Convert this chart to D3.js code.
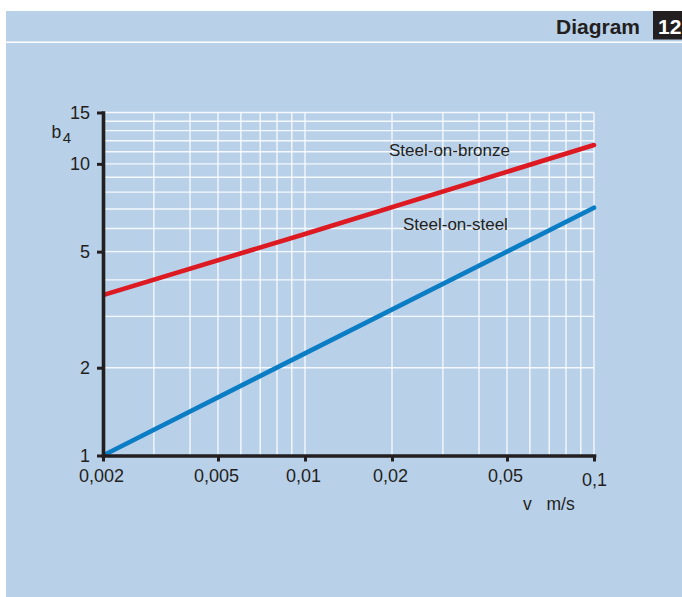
<!DOCTYPE html>
<html>
<head>
<meta charset="utf-8">
<script src="https://cdn.jsdelivr.net/npm/d3@7"></script>
<style>
  html, body { margin: 0; padding: 0; background: #ffffff; }
  svg { display: block; font-family: "Liberation Sans", Arial, Helvetica, sans-serif; }
</style>
</head>
<body>
<div id="chart"></div>
<script>
// ---- data ----
const seriesNames = ["Steel-on-bronze", "Steel-on-steel"];
const velocity = [0.002, 0.01, 0.1];            // v, m/s
const bronzeValues = [3.55, 5.75, 11.6];         // b4, steel-on-bronze
const steelValues = [1.0, 2.24, 7.07];           // b4, steel-on-steel
const xTickValues = [0.002, 0.005, 0.01, 0.02, 0.05, 0.1];
const xTickLabels = ["0,002", "0,005", "0,01", "0,02", "0,05", "0,1"];
const yTickValues = [1, 2, 5, 10, 15];
const yTickLabels = ["1", "2", "5", "10", "15"];
const xGridValues = [0.003, 0.004, 0.005, 0.006, 0.007, 0.008, 0.009, 0.01,
                     0.02, 0.03, 0.04, 0.05, 0.06, 0.07, 0.08, 0.09, 0.1];
const yGridValues = [2, 3, 4, 5, 6, 7, 8, 9, 10, 11, 12, 13, 14, 15];
const diagramTitle = "Diagram";
const diagramNumber = "12";
const yAxisLabel = "b";
const yAxisSub = "4";
const xAxisVar = "v";
const xAxisUnit = "m/s";

// ---- layout ----
const W = 682, H = 597;
const INK = "#231f20";
const BG = "#b9d0e9";
const RED = "#dd1a22";
const BLUE = "#0a7dc5";

const svg = d3.select("#chart").append("svg")
  .attr("width", W).attr("height", H);

// panel background
svg.append("rect").attr("x", 6).attr("y", 11).attr("width", W - 6).attr("height", H - 11).attr("fill", BG);
svg.append("line").attr("x1", 6).attr("x2", W).attr("y1", 42.2).attr("y2", 42.2)
  .attr("stroke", "#ffffff").attr("stroke-width", 1.6);

// header
svg.append("rect").attr("x", 653).attr("y", 11).attr("width", W - 653).attr("height", 28.5).attr("fill", INK);
svg.append("text").attr("x", 640).attr("y", 33.5).attr("text-anchor", "end")
  .attr("font-size", 21).attr("font-weight", "bold").attr("fill", INK).text(diagramTitle);
svg.append("text").attr("x", 658).attr("y", 33.5)
  .attr("font-size", 21).attr("font-weight", "bold").attr("fill", "#ffffff").text(diagramNumber);

// scales
const x = d3.scaleLog().domain([0.002, 0.1]).range([103, 594]);
const y = d3.scaleLog().domain([1, 15]).range([455.5, 112.5]);

const x0 = x.range()[0], x1 = x.range()[1];
const y0 = y.range()[0], y1 = y.range()[1];

// grid
const grid = svg.append("g").attr("stroke", "#ffffff").attr("stroke-opacity", 0.85).attr("stroke-width", 1.4);
grid.selectAll("line.v").data(xGridValues).join("line").attr("class", "v")
  .attr("x1", d => x(d)).attr("x2", d => x(d)).attr("y1", y0).attr("y2", y1);
grid.selectAll("line.h").data(yGridValues).join("line").attr("class", "h")
  .attr("x1", x0).attr("x2", x1).attr("y1", d => y(d)).attr("y2", d => y(d));

// series
const line = d3.line().x(d => x(d[0])).y(d => y(d[1]));
const series = [
  { name: seriesNames[0], color: RED, values: velocity.map((v, i) => [v, bronzeValues[i]]) },
  { name: seriesNames[1], color: BLUE, values: velocity.map((v, i) => [v, steelValues[i]]) }
];
svg.append("clipPath").attr("id", "clipL").append("rect")
  .attr("x", x0).attr("y", 0).attr("width", W - x0).attr("height", H);
svg.append("g").attr("clip-path", "url(#clipL)").selectAll("path.series").data(series).join("path")
  .attr("class", "series")
  .attr("d", d => line(d.values))
  .attr("fill", "none").attr("stroke", d => d.color)
  .attr("stroke-width", 4.6).attr("stroke-linecap", "round");

// axes
const fmtX = d => xTickLabels[xTickValues.indexOf(d)];
const fmtY = d => yTickLabels[yTickValues.indexOf(d)];

const xAxis = svg.append("g").attr("transform", `translate(0,${y0})`)
  .call(d3.axisBottom(x).tickValues(xTickValues).tickFormat(fmtX).tickSize(6).tickSizeOuter(0).tickPadding(8));
const yAxis = svg.append("g").attr("transform", `translate(${x0},0)`)
  .call(d3.axisLeft(y).tickValues(yTickValues).tickFormat(fmtY).tickSize(6).tickSizeOuter(0).tickPadding(7));

[xAxis, yAxis].forEach(g => {
  g.select(".domain").attr("stroke", INK).attr("stroke-width", 3.6).attr("stroke-linecap", "square");
  g.selectAll(".tick line").attr("stroke", INK).attr("stroke-width", 3);
  g.selectAll(".tick text").attr("fill", INK).attr("font-size", 18)
    .attr("font-family", "'Liberation Sans', Arial, Helvetica, sans-serif");
});
xAxis.selectAll(".tick text").attr("dx", -2);
xAxis.selectAll(".tick text").filter(d => d === 0.1).attr("dx", 0).attr("dy", "0.9em");

// axis titles
const yt = svg.append("text").attr("x", 51.5).attr("y", 138.3).attr("fill", INK).attr("font-size", 17.5);
yt.append("tspan").text(yAxisLabel);
yt.append("tspan").attr("font-size", 15).attr("dx", 1.5).attr("dy", 4.4).text(yAxisSub);

svg.append("text").attr("x", 523).attr("y", 510).attr("fill", INK).attr("font-size", 17.5).text(xAxisVar);
svg.append("text").attr("x", 546.5).attr("y", 510).attr("fill", INK).attr("font-size", 17.5).text(xAxisUnit);

// series labels
svg.append("text").attr("x", 389).attr("y", 156).attr("fill", INK).attr("font-size", 17).text(seriesNames[0]);
svg.append("text").attr("x", 403).attr("y", 230).attr("fill", INK).attr("font-size", 17).text(seriesNames[1]);
</script>
</body>
</html>
